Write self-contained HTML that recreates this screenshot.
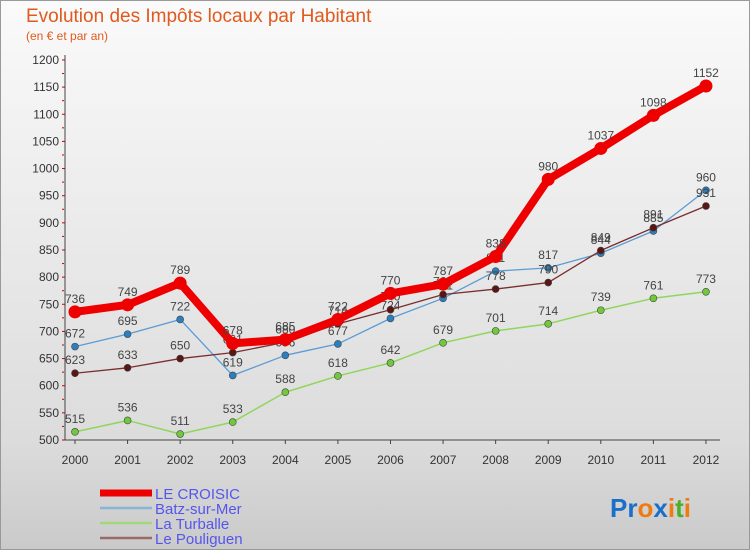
<!DOCTYPE html>
<html><head><meta charset="utf-8"><style>
body{margin:0;}
#c{width:750px;height:550px;position:relative;overflow:hidden;font-family:"Liberation Sans","DejaVu Sans",sans-serif;}
</style></head><body>
<div id="c">
<svg id="s" width="750" height="550" xmlns="http://www.w3.org/2000/svg">
<defs><linearGradient id="bg" x1="0" y1="0" x2="0" y2="1"><stop offset="0" stop-color="#fafafa"/><stop offset="0.8" stop-color="#dcdcdc"/><stop offset="1" stop-color="#cacaca"/></linearGradient></defs>
<rect x="0.5" y="0.5" width="749" height="549" fill="url(#bg)" stroke="#999"/>
<text x="26" y="22" font-size="19" fill="#e05a1e">Evolution des Impôts locaux par Habitant</text>
<text x="26" y="40" font-size="12" fill="#e05a1e">(en € et par an)</text>
<g id="axes"></g><g id="series"></g><g id="legend"></g>
<text x="610" y="517" font-size="26" font-weight="bold"><tspan fill="#1a6fc9">Pr</tspan><tspan fill="#f07b12">o</tspan><tspan fill="#1a6fc9">x</tspan><tspan fill="#f07b12">i</tspan><tspan fill="#4caf2a">t</tspan><tspan fill="#f07b12">i</tspan></text>
</svg>
</div>
<script>
const years=["2000","2001","2002","2003","2004","2005","2006","2007","2008","2009","2010","2011","2012"];
const yTicks=[500,550,600,650,700,750,800,850,900,950,1000,1050,1100,1150,1200];
const croisic=[736,749,789,678,685,722,770,787,838,980,1037,1098,1152];
const batz=[672,695,722,619,656,677,724,761,811,817,844,885,960];
const turballe=[515,536,511,533,588,618,642,679,701,714,739,761,773];
const pouliguen=[623,633,650,661,680,714,740,768,778,790,849,891,931];
const names=["LE CROISIC","Batz-sur-Mer","La Turballe","Le Pouliguen"];
const NS="http://www.w3.org/2000/svg";
const X=i=>75+i*52.58;
const Y=v=>440-(v-500)*0.5429;
function mk(t,a,p){const e=document.createElementNS(NS,t);for(const k in a)e.setAttribute(k,a[k]);p.appendChild(e);return e;}
const ax=document.getElementById('axes');
let l=mk('line',{x1:65,y1:55,x2:65,y2:440,stroke:'#444'},ax);


l=mk('line',{x1:65,y1:440,x2:720,y2:440,stroke:'#444'},ax);


yTicks.forEach(v=>{
 const t=mk('text',{x:59,y:Y(v)+4,'text-anchor':'end','font-size':12,fill:'#333'},ax);t.textContent=v;
 
 
 mk('line',{x1:62,y1:Y(v),x2:65,y2:Y(v),stroke:'#c00'},ax);
 if(v<1200) mk('line',{x1:62,y1:Y(v+25),x2:64,y2:Y(v+25),stroke:'#c00'},ax);
});
years.forEach((y,i)=>{
 const t=mk('text',{x:X(i),y:464,'text-anchor':'middle','font-size':12,fill:'#333'},ax);t.textContent=y;
 
 
 mk('line',{x1:X(i),y1:440,x2:X(i),y2:444,stroke:'#444'},ax);
});
const sg=document.getElementById('series');
const defs=[[batz,'#5b9bd5','#2a7fc0',1.3,3.5,'series-batz-sur-mer'],[turballe,'#8fd65a','#70c83a',1.5,3.5,'series-la-turballe'],[pouliguen,'#7a2e2e','#5a1515',1.3,3.5,'series-le-pouliguen'],[croisic,'#ee0000','#ee0000',8,6.5,'series-le-croisic']];
defs.forEach(([d,c,f,w,r,n])=>{
 const g=mk('g',{},sg);
 
 
 const p=mk('polyline',{points:d.map((v,i)=>X(i)+','+Y(v)).join(' '),fill:'none',stroke:c,'stroke-width':w,'stroke-linejoin':'round'},g);
 
 
 d.forEach((v,i)=>{
  const ci=mk('circle',{cx:X(i),cy:Y(v),r:r,fill:f,stroke:'#444','stroke-width':w>5?0:0.6},g);
  
  
  const t=mk('text',{x:X(i),y:Y(v)-9,'text-anchor':'middle','font-size':12,fill:'#444'},g);t.textContent=v;
  
  
 });
});
const lg=document.getElementById('legend');
const lc=['#ee0000','#8ab4d6','#9fd97a','#9a6a6a'],lw=[7,2.5,2.5,2.5];
names.forEach((n,i)=>{
 const y=493+i*15;
 const g=mk('g',{},lg);
 
 
 mk('line',{x1:100,y1:y,x2:152,y2:y,stroke:lc[i],'stroke-width':lw[i]},g);
 const t=mk('text',{x:155,y:y+6,'font-size':15,fill:'#5555ee'},g);t.textContent=n;
});
</script>
</body></html>
